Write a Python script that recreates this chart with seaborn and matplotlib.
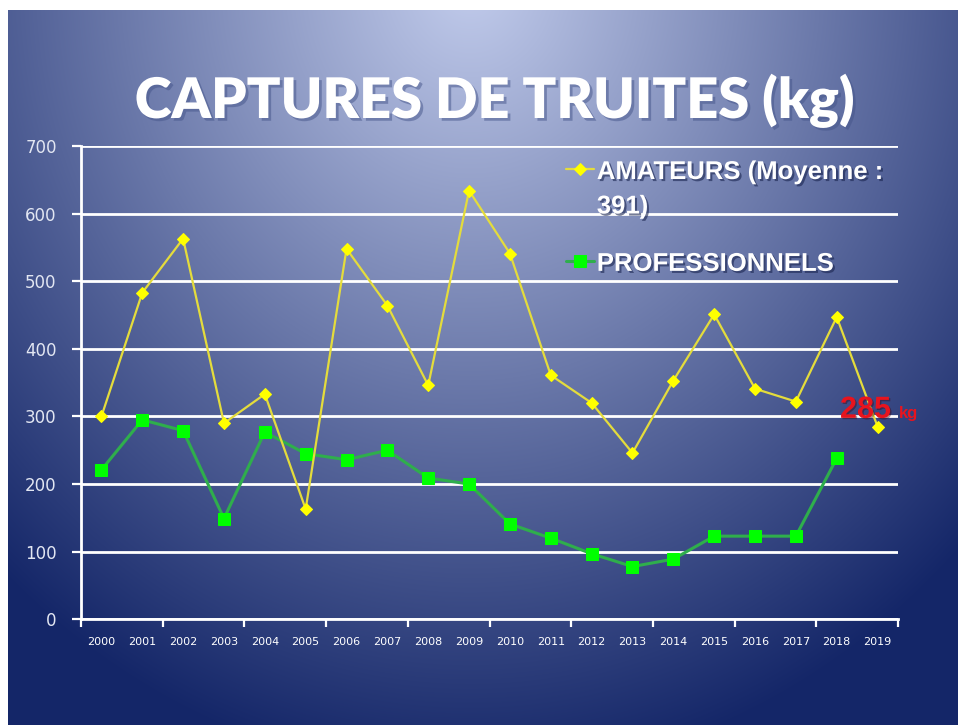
import numpy as np
import pandas as pd
import matplotlib
matplotlib.use("Agg")
import matplotlib.pyplot as plt
import seaborn as sns
from matplotlib import patheffects as pe

# ---------------- data ----------------
years = [str(y) for y in range(2000, 2020)]
amateurs = [300, 483, 563, 290, 333, 163, 548, 464, 346, 634,
            541, 361, 320, 246, 353, 451, 341, 322, 447, 285]
professionnels = [221, 295, 279, 149, 277, 245, 236, 250, 209, 200,
                  141, 120, 97, 78, 89, 123, 123, 123, 238, np.nan]
y_ticks = [0, 100, 200, 300, 400, 500, 600, 700]
title_text = "CAPTURES DE TRUITES (kg)"
label_am = "AMATEURS (Moyenne :\n391)"
label_pro = "PROFESSIONNELS"
note_value = "285"
note_unit = "kg"

# ---------------- style ----------------
sns.set_theme(style="white")
plt.rcParams['font.family'] = ['DejaVu Sans']

W, H = 958, 725
fig = plt.figure(figsize=(W / 100, H / 100), dpi=100)
fig.patch.set_facecolor('white')

# gradient background (radial-ish, light at top centre)
bx0, by0 = 8, 10
bw, bh = W - bx0, H - by0
bg = fig.add_axes([bx0 / W, 0, bw / W, bh / H], zorder=-10)
xx, yy = np.meshgrid(np.arange(bw) + bx0, np.arange(bh) + by0)
t = np.sqrt(((xx - 470) / 700.0) ** 2 + ((yy + 20) / 800.0) ** 2)
t = np.clip(t, 0, 1)
light = np.array([194, 204, 236]) / 255.0
dark = np.array([20, 38, 104]) / 255.0
s = (1 - t)[..., None]
img = dark + (light - dark) * s
bg.imshow(img, aspect='auto', interpolation='bilinear')
bg.axis('off')

# main axes
ax = fig.add_axes([81 / W, (H - 619.3) / H, (898 - 81) / W, (619.3 - 146) / H])
ax.set_facecolor('none')

df = pd.DataFrame({'x': np.arange(len(years)), 'annee': years,
                   'am': amateurs, 'pro': professionnels})

sns.lineplot(data=df, x='x', y='am', ax=ax, color='#e4dc3c', linewidth=1.6,
             marker='D', markersize=6.5, markerfacecolor='#ffff00',
             markeredgecolor='#ffff00', label=label_am, zorder=4)
sns.lineplot(data=df.dropna(), x='x', y='pro', ax=ax, color='#2fae4c', linewidth=2.2,
             marker='s', markersize=9, markerfacecolor='#00ff00',
             markeredgecolor='#00ff00', label=label_pro, zorder=3)

ax.set_xlim(-0.5, len(years) - 0.5)
ax.set_ylim(0, 700)
ax.set_xlabel('')
ax.set_ylabel('')

ax.set_yticks(y_ticks)
ax.set_yticklabels([str(v) for v in y_ticks])
ax.yaxis.grid(True, color='white', linewidth=2)
ax.xaxis.grid(False)
ax.set_axisbelow(True)

ax.set_xticks(np.arange(-0.5, len(years), 2))
ax.set_xticklabels([])
ax.set_xticks(np.arange(len(years)), minor=True)
ax.set_xticklabels(years, minor=True)

ax.tick_params(axis='x', which='major', bottom=True, length=6, width=1.6,
               color='white', direction='out', labelbottom=False)
ax.tick_params(axis='x', which='minor', bottom=True, length=0, labelsize=8,
               labelcolor='white', pad=13)
ax.tick_params(axis='y', which='major', left=True, length=6.5, width=1.6,
               color='white', direction='out', labelsize=12,
               labelcolor='#e2e6f2', pad=11)

for side in ['top', 'right']:
    ax.spines[side].set_visible(False)
for side in ['left', 'bottom']:
    ax.spines[side].set_color('white')
    ax.spines[side].set_linewidth(2)

# legend
shadow = [pe.withSimplePatchShadow(offset=(1.5, -1.5), shadow_rgbFace='#1a2550', alpha=0.6)]
leg = ax.legend(loc='upper left', bbox_to_anchor=(566 / W, 1 - 160 / H),
                bbox_transform=fig.transFigure, frameon=False,
                borderpad=0, borderaxespad=0, handlelength=1.1,
                handletextpad=0.1, labelspacing=1.3,
                prop={'family': 'Liberation Sans', 'weight': 'bold', 'size': 18.5})
for txt in leg.get_texts():
    txt.set_color('white')
    txt.set_linespacing(1.55)
    txt.set_path_effects(shadow)
# align legend handles with the first line of their label
try:
    for col in leg._legend_handle_box.get_children():
        for row in col.get_children():
            row.align = 'top'
except Exception:
    pass

# title
ttl = fig.text(495 / W, 1 - 118 / H, title_text, ha='center', va='baseline',
               color='white', fontweight='heavy', fontsize=48, family='Lato',
               path_effects=[pe.withSimplePatchShadow(offset=(2, -2), shadow_rgbFace='#45558a', alpha=0.5)])
fig.canvas.draw()
r = fig.canvas.get_renderer()
wpx = ttl.get_window_extent(renderer=r).width
ttl.set_fontsize(48 * 720.0 / wpx)

# annotation 285 kg
red = '#e8141e'
ax.text(18.08, 298, note_value, color=red, fontsize=22, fontweight='bold',
        family='Liberation Sans', ha='left', va='baseline', zorder=6, clip_on=False,
        path_effects=[pe.withSimplePatchShadow(offset=(1, -1), shadow_rgbFace='#40000a', alpha=0.4)])
ax.text(19.53, 298, note_unit, color=red, fontsize=12, fontweight='bold',
        family='Liberation Sans', ha='left', va='baseline', zorder=6, clip_on=False)

fig.savefig('out.png', dpi=100, facecolor=fig.get_facecolor())
